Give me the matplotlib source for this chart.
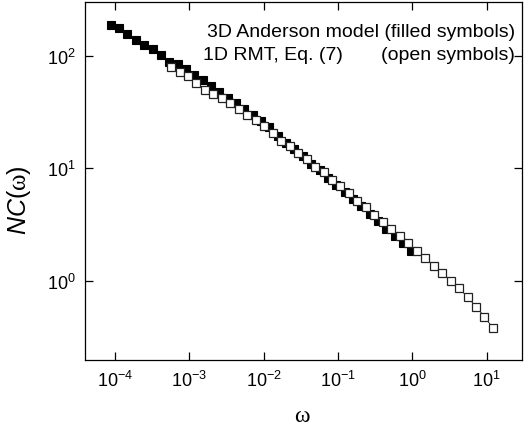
import matplotlib

matplotlib.use("Agg")
import matplotlib.pyplot as plt

plt.rcParams["font.family"] = ["Liberation Sans", "DejaVu Sans"]
plt.rcParams["mathtext.fontset"] = "custom"
plt.rcParams["mathtext.rm"] = "Liberation Serif"
plt.rcParams["mathtext.sf"] = "Liberation Sans"
plt.rcParams["mathtext.it"] = "Liberation Sans:italic"
plt.rcParams["axes.unicode_minus"] = False

# 3D Anderson model (filled symbols)
omega_anderson = [
    8.75e-5, 1.134e-4, 1.468e-4, 1.902e-4, 2.46e-4, 3.19e-4, 4.13e-4, 5.35e-4,
    6.93e-4, 8.98e-4, 1.163e-3, 1.506e-3, 1.95e-3, 2.53e-3, 3.27e-3, 4.24e-3,
    5.49e-3, 7.11e-3, 9.21e-3, 1.192e-2, 1.545e-2, 2.00e-2, 2.59e-2, 3.35e-2,
    4.35e-2, 5.63e-2, 7.29e-2, 9.44e-2, 0.1222, 0.1583, 0.205, 0.2655,
    0.344, 0.4455, 0.577, 0.747, 0.968,
]
nc_anderson = [
    187.5, 175.2, 155.9, 137.9, 124.5, 114.7, 101.4, 88.4,
    83.5, 75.4, 66.7, 60.2, 53.8, 47.1, 42.1, 37.6,
    33.3, 29.7, 26.0, 23.0, 19.45, 16.9, 14.7, 12.8,
    10.99, 9.56, 8.22, 7.09, 6.13, 5.29, 4.59, 3.92,
    3.39, 2.90, 2.49, 2.15, 1.85,
]

# 1D RMT, Eq. (7) (open symbols)
omega_rmt = [
    5.66e-4, 7.36e-4, 9.57e-4, 1.244e-3, 1.617e-3, 2.10e-3, 2.73e-3, 3.55e-3,
    4.62e-3, 6.00e-3, 7.80e-3, 1.014e-2, 1.318e-2, 1.714e-2, 2.23e-2, 2.90e-2,
    3.77e-2, 4.90e-2, 6.37e-2, 8.28e-2, 0.1076, 0.1399, 0.1819, 0.2365,
    0.3075, 0.3998, 0.520, 0.675, 0.878, 1.141, 1.484, 1.929,
    2.51, 3.26, 4.24, 5.51, 7.16, 9.31, 12.1,
]
nc_rmt = [
    78.9, 72.1, 65.6, 57.2, 49.9, 45.9, 41.8, 37.6,
    33.4, 29.5, 26.7, 23.5, 20.5, 17.6, 15.6, 13.7,
    12.0, 10.3, 9.20, 7.86, 6.90, 5.98, 5.14, 4.49,
    3.86, 3.35, 2.88, 2.48, 2.14, 1.83, 1.59, 1.36,
    1.18, 1.00, 0.856, 0.716, 0.587, 0.479, 0.378,
]

fig = plt.figure(figsize=(5.32, 4.35), dpi=100)
ax = fig.add_axes([0.1607, 0.1690, 0.8205, 0.8241])

ax.plot(omega_anderson, nc_anderson, ls="none", marker="s", ms=5.8,
        mfc="black", mec="black", mew=0.8, zorder=2)
ax.plot(omega_rmt, nc_rmt, ls="-", lw=0.6, color="black", marker="s", ms=5.8,
        mfc="white", mec="#222222", mew=0.9, zorder=3)

ax.set_xscale("log")
ax.set_yscale("log")
ax.set_xlim(4.0e-5, 29.8)
ax.set_ylim(0.195, 300)
ax.minorticks_off()
ax.tick_params(which="major", direction="in", top=True, right=True,
               length=5.5, width=0.9, labelsize=13, pad=7)
for side in ax.spines.values():
    side.set_linewidth(0.9)

ax.set_xlabel(r"$\mathrm{\omega}$", fontsize=17)
ax.xaxis.set_label_coords(0.497, -0.12)
ax.set_ylabel(r"$\mathit{NC}\mathsf{(}\mathrm{\omega}\mathsf{)}$", fontsize=18)
ax.yaxis.set_label_coords(-0.12, 0.45)

ax.text(0.984, 0.905, "3D Anderson model (filled symbols)", transform=ax.transAxes,
        ha="right", va="baseline", fontsize=14)
ax.text(0.2685, 0.842, "1D RMT, Eq. (7)", transform=ax.transAxes,
        ha="left", va="baseline", fontsize=14)
ax.text(0.984, 0.842, "(open symbols)", transform=ax.transAxes,
        ha="right", va="baseline", fontsize=14)

fig.savefig("out.png", dpi=100)
plt.close(fig)
